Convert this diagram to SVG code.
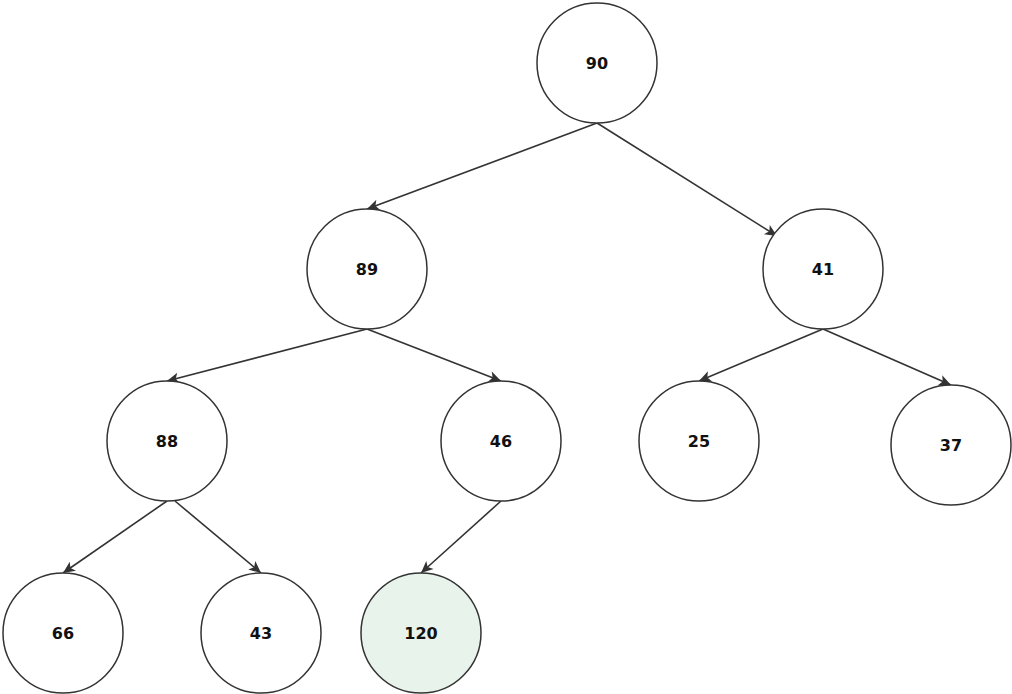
<svg xmlns="http://www.w3.org/2000/svg" width="1012" height="694" viewBox="0 0 1012 694">
<style>
.node circle{fill:#ffffff;stroke:#333333;stroke-width:1.5}
.node.hl circle{fill:#e8f3eb}
.node text{font-family:"DejaVu Sans",sans-serif;font-size:16px;font-weight:bold;fill:#111111;text-anchor:middle;dominant-baseline:central}
.edges line{stroke:#333333;stroke-width:1.6;fill:none;marker-end:url(#arr)}
</style>
<defs>
<marker id="arr" markerUnits="userSpaceOnUse" markerWidth="20" markerHeight="20" refX="0" refY="0" orient="auto" overflow="visible">
<path d="M-12,-5.5 L0,0 L-12,5.5 L-9,0 z" fill="#333333"/>
</marker>
</defs>
<rect width="1012" height="694" fill="#ffffff"/>
<g id="edges" class="edges">
<line x1="597" y1="123" x2="367" y2="209"/>
<line x1="597" y1="123" x2="777" y2="236"/>
<line x1="367" y1="329" x2="167" y2="381"/>
<line x1="367" y1="329" x2="501" y2="381"/>
<line x1="823" y1="329" x2="699" y2="381"/>
<line x1="823" y1="329" x2="951" y2="385"/>
<line x1="167" y1="501" x2="63" y2="573"/>
<line x1="175" y1="501" x2="261" y2="573"/>
<line x1="501" y1="501" x2="421" y2="573"/>
</g>
<g id="n90" class="node"><circle cx="597" cy="63" r="60"/><text x="597" y="63">90</text></g>
<g id="n89" class="node"><circle cx="367" cy="269" r="60"/><text x="367" y="269">89</text></g>
<g id="n41" class="node"><circle cx="823" cy="269" r="60"/><text x="823" y="269">41</text></g>
<g id="n88" class="node"><circle cx="167" cy="441" r="60"/><text x="167" y="441">88</text></g>
<g id="n46" class="node"><circle cx="501" cy="441" r="60"/><text x="501" y="441">46</text></g>
<g id="n25" class="node"><circle cx="699" cy="441" r="60"/><text x="699" y="441">25</text></g>
<g id="n37" class="node"><circle cx="951" cy="445" r="60"/><text x="951" y="445">37</text></g>
<g id="n66" class="node"><circle cx="63" cy="633" r="60"/><text x="63" y="633">66</text></g>
<g id="n43" class="node"><circle cx="261" cy="633" r="60"/><text x="261" y="633">43</text></g>
<g id="n120" class="node hl"><circle cx="421" cy="633" r="60"/><text x="421" y="633">120</text></g>
</svg>
